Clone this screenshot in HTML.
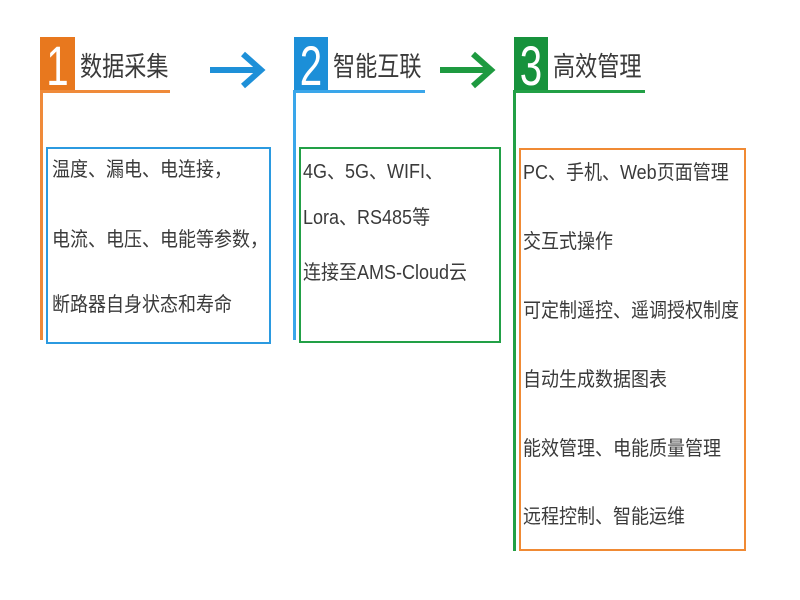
<!DOCTYPE html>
<html><head><meta charset="utf-8"><style>
body{margin:0;width:800px;height:600px;background:#fff;position:relative;overflow:hidden;font-family:"Liberation Sans","Noto Sans CJK SC",sans-serif;color:#333}
.a{position:absolute}
.num{position:absolute;color:#fff;font-size:56px;line-height:55px;text-align:center;font-weight:300;transform:scaleX(0.72);transform-origin:center top}
.title{position:absolute;font-size:27px;line-height:30px;color:#3a3a3a;transform:scaleX(0.82);transform-origin:left top;white-space:nowrap}
.t{position:absolute;font-size:20px;line-height:24px;color:#3a3a3a;transform:scaleX(0.9);transform-origin:left top;white-space:nowrap}
</style></head><body>
<!-- block 1 -->
<div class="a" style="left:40px;top:37px;width:35px;height:55px;background:#e8781e"></div>
<div class="num" style="left:40px;top:38px;width:35px">1</div>
<div class="title" style="left:80px;top:52px">数据采集</div>
<div class="a" style="left:40px;top:90px;width:130px;height:3px;background:#ef8a3a"></div>
<div class="a" style="left:40px;top:90px;width:3px;height:250px;background:#ef8a3a"></div>
<div class="a" style="left:46px;top:147px;width:221px;height:193px;border:2px solid #2b9ae0"></div>
<div class="t" style="left:52px;top:158px">温度、漏电、电连接，</div>
<div class="t" style="left:52px;top:228px">电流、电压、电能等参数，</div>
<div class="t" style="left:52px;top:293px">断路器自身状态和寿命</div>
<!-- arrow 1 -->
<svg class="a" style="left:205px;top:48px" width="65" height="45"><line x1="5" y1="22" x2="55" y2="22" stroke="#1e90d8" stroke-width="6"/><polyline points="38,6 56,22 38,38" fill="none" stroke="#1e90d8" stroke-width="6"/></svg>
<!-- block 2 -->
<div class="a" style="left:294px;top:37px;width:34px;height:55px;background:#1c8fd8"></div>
<div class="num" style="left:294px;top:38px;width:34px">2</div>
<div class="title" style="left:333px;top:52px">智能互联</div>
<div class="a" style="left:294px;top:90px;width:131px;height:3px;background:#3aa6ea"></div>
<div class="a" style="left:293px;top:90px;width:3px;height:250px;background:#3aa6ea"></div>
<div class="a" style="left:299px;top:147px;width:198px;height:192px;border:2px solid #22a046"></div>
<div class="t" style="left:303px;top:160px">4G、5G、WIFI、</div>
<div class="t" style="left:303px;top:206px">Lora、RS485等</div>
<div class="t" style="left:303px;top:261px">连接至AMS-Cloud云</div>
<!-- arrow 2 -->
<svg class="a" style="left:435px;top:48px" width="65" height="45"><line x1="5" y1="22" x2="55" y2="22" stroke="#1e9a40" stroke-width="6"/><polyline points="38,6 56,22 38,38" fill="none" stroke="#1e9a40" stroke-width="6"/></svg>
<!-- block 3 -->
<div class="a" style="left:514px;top:37px;width:34px;height:55px;background:#17923c"></div>
<div class="num" style="left:514px;top:38px;width:34px">3</div>
<div class="title" style="left:553px;top:52px">高效管理</div>
<div class="a" style="left:514px;top:90px;width:131px;height:3px;background:#22a046"></div>
<div class="a" style="left:513px;top:90px;width:3px;height:461px;background:#22a046"></div>
<div class="a" style="left:519px;top:148px;width:223px;height:399px;border:2px solid #f08a34"></div>
<div class="t" style="left:523px;top:161px">PC、手机、Web页面管理</div>
<div class="t" style="left:523px;top:230px">交互式操作</div>
<div class="t" style="left:523px;top:299px">可定制遥控、遥调授权制度</div>
<div class="t" style="left:523px;top:368px">自动生成数据图表</div>
<div class="t" style="left:523px;top:437px">能效管理、电能质量管理</div>
<div class="t" style="left:523px;top:505px">远程控制、智能运维</div>
</body></html>
